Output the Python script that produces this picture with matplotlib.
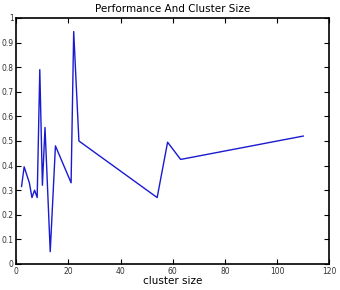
import matplotlib
matplotlib.use('Agg')
import matplotlib.pyplot as plt

# cluster size vs. score
cluster_size = [2, 3, 5, 6, 7, 8, 9, 10, 11, 13, 15, 21, 22, 24, 54, 58, 63, 110]
score = [0.315, 0.395, 0.33, 0.27, 0.30, 0.27, 0.79, 0.32, 0.555, 0.05,
         0.48, 0.33, 0.945, 0.50, 0.27, 0.495, 0.425, 0.52]

x_ticks = [0, 20, 40, 60, 80, 100, 120]
y_ticks = [0, 0.1, 0.2, 0.3, 0.4, 0.5, 0.6, 0.7, 0.8, 0.9, 1]
y_tick_labels = ['0', '0.1', '0.2', '0.3', '0.4', '0.5', '0.6', '0.7', '0.8', '0.9', '1']

fig = plt.figure(figsize=(3.4, 2.9), dpi=100)
ax = fig.add_axes([0.048, 0.0897, 0.9205, 0.8483])

ax.plot(cluster_size, score, color='#1a1ad0', linewidth=1.0)

ax.set_xlim(0, 120)
ax.set_ylim(0, 1)
ax.set_xticks(x_ticks)
ax.set_yticks(y_ticks)
ax.set_yticklabels(y_tick_labels)
ax.tick_params(direction='in', length=3.5, width=0.8, labelsize=5.5,
               top=True, right=True, pad=2, labelcolor='#333333')
for spine in ax.spines.values():
    spine.set_linewidth(1.2)

ax.set_title('Performance And Cluster Size', fontsize=7.5, pad=4)
ax.set_xlabel('cluster size', fontsize=7.5, labelpad=0)
ax.set_ylabel('NMI', fontsize=7.5)
ax.yaxis.set_label_coords(-0.055, 0.5)

fig.savefig('out.png', dpi=100)
